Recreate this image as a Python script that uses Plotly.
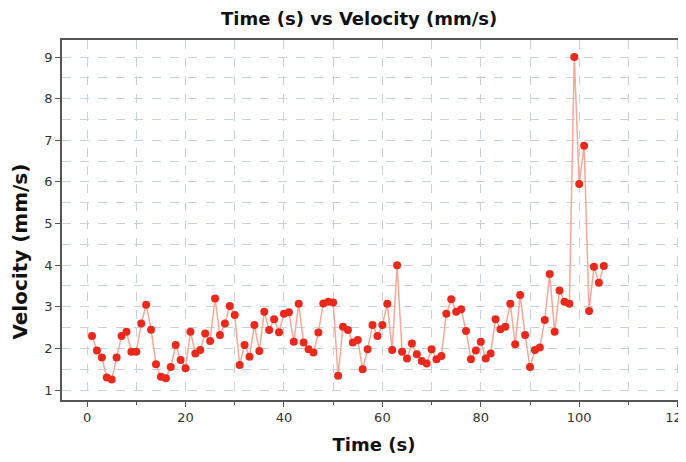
import plotly.graph_objects as go

time_s = list(range(1, 106))
velocity = [
    2.30, 1.95, 1.78, 1.30, 1.25, 1.78, 2.30, 2.40, 1.92, 1.92,
    2.60, 3.05, 2.45, 1.62, 1.32, 1.28, 1.55, 2.08, 1.72, 1.52,
    2.40, 1.88, 1.96, 2.36, 2.18, 3.20, 2.32, 2.60, 3.02, 2.80,
    1.60, 2.08, 1.80, 2.56, 1.94, 2.88, 2.44, 2.70, 2.39, 2.83,
    2.87, 2.16, 3.07, 2.14, 1.98, 1.90, 2.38, 3.08, 3.12, 3.10,
    1.34, 2.52, 2.44, 2.14, 2.20, 1.50, 1.98, 2.56, 2.30, 2.56,
    3.07, 1.96, 4.00, 1.92, 1.76, 2.12, 1.86, 1.70, 1.64, 1.98,
    1.74, 1.82, 2.83, 3.18, 2.88, 2.94, 2.42, 1.74, 1.95, 2.16,
    1.76, 1.88, 2.70, 2.46, 2.52, 3.07, 2.10, 3.28, 2.32, 1.55,
    1.96, 2.02, 2.68, 3.79, 2.40, 3.39, 3.12, 3.07, 9.00, 5.95,
    6.87, 2.90, 3.96, 3.58, 3.98,
]

x_ticks = [0, 20, 40, 60, 80, 100, 120]
y_ticks = [1, 2, 3, 4, 5, 6, 7, 8, 9]

fig = go.Figure()
fig.add_trace(go.Scatter(
    x=time_s, y=velocity, mode="lines+markers",
    line=dict(color="#f5a898", width=1.5),
    marker=dict(color="#e8291c", size=8, line=dict(width=0)),
    showlegend=False, cliponaxis=False,
))

grid_col = "#c5d2de"
axis_font = dict(family="DejaVu Sans", size=13, color="#333")
W, H = 678, 454
fig.update_layout(
    width=W, height=H,
    margin=dict(l=54, r=0, t=32, b=62),
    paper_bgcolor="white", plot_bgcolor="white",
    title=dict(text="<b>Time (s) vs Velocity (mm/s)</b>", x=0.518, xanchor="center",
               y=0.976, yanchor="middle",
               font=dict(family="DejaVu Sans", size=18, color="#111")),
    xaxis=dict(
        range=[-5.1, 121.7], tickvals=x_ticks, ticktext=[str(v) for v in x_ticks],
        ticks="outside", ticklen=5, tickcolor="#555", automargin=False,
        ticklabeloverflow="allow",
        showgrid=True, gridcolor=grid_col, griddash="dash", gridwidth=1,
        minor=dict(dtick=10, showgrid=True, gridcolor=grid_col, griddash="dash",
                   ticks="outside", ticklen=3, tickcolor="#555"),
        showline=True, linecolor="#555", linewidth=1.5, mirror=True,
        zeroline=False, tickfont=axis_font,
        title=dict(text="<b>Time (s)</b>", standoff=14,
                   font=dict(family="DejaVu Sans", size=18, color="#111")),
    ),
    yaxis=dict(
        range=[0.76, 9.41], tickvals=y_ticks, ticktext=[str(v) for v in y_ticks],
        ticks="outside", ticklen=5, tickcolor="#555", automargin=False,
        showgrid=True, gridcolor=grid_col, griddash="dash", gridwidth=1,
        minor=dict(dtick=0.5, showgrid=True, gridcolor=grid_col, griddash="dash"),
        showline=True, linecolor="#555", linewidth=1.5, mirror=True,
        zeroline=False, tickfont=axis_font,
    ),
    annotations=[dict(
        text="<b>Velocity (mm/s)</b>", textangle=-90, showarrow=False,
        xref="paper", yref="paper", x=-0.068, y=0.411,
        xanchor="center", yanchor="middle",
        font=dict(family="DejaVu Sans", size=20, color="#111"),
    )],
)

fig.write_html("out.html")
